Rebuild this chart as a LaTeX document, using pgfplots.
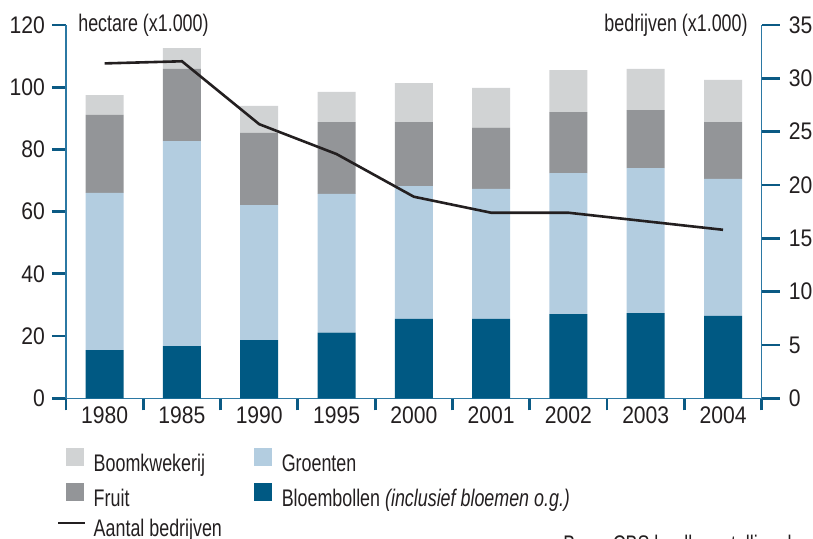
\documentclass[border=0pt]{standalone}
\usepackage{fontspec}
\setmainfont{Liberation Sans}[FakeStretch=0.745]
\newfontfamily\tickfont{Liberation Sans}[FakeStretch=0.88]
\usepackage{pgfplots}
\pgfplotsset{compat=1.18}
\usepackage{pgfplotstable}
\definecolor{bloem}{HTML}{005983}
\definecolor{groen}{HTML}{B3CDE0}
\definecolor{fruit}{HTML}{939598}
\definecolor{boom}{HTML}{D1D3D4}
\definecolor{axblue}{HTML}{2B78A3}
\definecolor{tickblue}{HTML}{0B5A84}
\definecolor{txt}{HTML}{231F20}

\pgfplotstableread{
x bloem groen fruit boom
0 15.5 50.5 25.1 6.4
1 16.8 65.9 23.2 6.7
2 18.7 43.4 23.2 8.7
3 21.1 44.6 23.1 9.7
4 25.5 42.7 20.6 12.5
5 25.5 41.8 19.7 12.8
6 27.1 45.3 19.6 13.5
7 27.4 46.6 18.6 13.3
8 26.5 44.0 18.3 13.6
}\bars

\pgfplotstableread{
x n
0 31.4
1 31.6
2 25.7
3 22.9
4 18.9
5 17.4
6 17.4
7 16.6
8 15.8
}\bedrijven

\pgfplotsset{
  common/.style={
    width=347.85pt, height=186.65pt, scale only axis,
    at={(0,0)}, anchor=south west,
    xmin=-0.5, xmax=8.5,
    clip=false,
    /pgf/number format/assume math mode=true,
    tick label style={font=\tickfont\fontsize{12}{14}\selectfont, text=txt},
    axis line style={draw=axblue, line width=0.8pt},
    tick align=outside,
    major tick length=7pt,
    every tick/.style={draw=tickblue, line width=1.4pt},
  },
}

\begin{document}
\begin{tikzpicture}[font=\fontsize{12}{14}\selectfont, text=txt]
\begin{axis}[common,
  ybar stacked, bar width=19pt,
  ymin=0, ymax=120, ytick={0,20,...,120},
  axis x line*=bottom, axis y line*=left,
  xtick={0,...,8},
  xticklabels={1980,1985,1990,1995,2000,2001,2002,2003,2004},
  major x tick style={draw=none},
  minor xtick={-0.5,0.5,...,8.5},
  minor tick length=6pt,
  minor x tick style={draw=tickblue, line width=1.4pt},
  xticklabel style={yshift=6.5pt},
  legend columns=2,
  legend cell align=left,
  legend style={at={(axis description cs:-0.0129,-0.1331)}, anchor=north west,
    draw=none, fill=none, inner sep=0pt, outer sep=0pt,
    column sep=0pt, row sep=3pt,
    nodes={inner sep=0pt, text height=9pt, text depth=3pt, text=txt, font=\fontsize{12}{14}\selectfont},
    /tikz/every even column/.append style={column sep=16pt}},
]
\addplot[fill=bloem, draw=none, forget plot] table[x=x, y=bloem] {\bars};
\addplot[fill=groen, draw=none, forget plot] table[x=x, y=groen] {\bars};
\addplot[fill=fruit, draw=none, forget plot] table[x=x, y=fruit] {\bars};
\addplot[fill=boom, draw=none, forget plot] table[x=x, y=boom] {\bars};
\addlegendimage{legend image code/.code={\fill[boom] (0pt,0pt) rectangle (8.5pt,8.5pt); \path (13.5pt,0pt);}}
\addlegendentry{Boomkwekerij}
\addlegendimage{legend image code/.code={\fill[groen] (0pt,0pt) rectangle (8.5pt,8.5pt); \path (13.5pt,0pt);}}
\addlegendentry{Groenten}
\addlegendimage{legend image code/.code={\fill[fruit] (0pt,0pt) rectangle (8.5pt,8.5pt); \path (13.5pt,0pt);}}
\addlegendentry{Fruit}
\addlegendimage{legend image code/.code={\fill[bloem] (0pt,0pt) rectangle (8.5pt,8.5pt); \path (13.5pt,0pt);}}
\addlegendentry{Bloembollen \textit{(inclusief bloemen o.g.)}}
\addlegendimage{legend image code/.code={\draw[txt, line width=1.3pt] (-4pt,4pt) -- (9.5pt,4pt); \path (13.5pt,0pt);}}
\addlegendentry{Aantal bedrijven}
\node[anchor=west, inner sep=0pt] at (axis description cs:0.0172,1) {hectare (x1.000)};
\node[anchor=north west, inner sep=0pt] at (axis description cs:0.7144,-0.3662) {Bron: CBS landbouwtelling, bewerking LEI};
\end{axis}
\begin{axis}[common,
  ymin=0, ymax=35, ytick={0,5,...,35},
  major tick length=9pt,
  axis y line*=right, axis x line=none,
  yticklabel style={xshift=1pt},
]
\addplot[txt, line width=1.3pt, mark=none] table[x=x, y=n] {\bedrijven};
\node[anchor=east, inner sep=0pt] at (axis description cs:0.9803,1) {bedrijven (x1.000)};
\end{axis}
\pgfresetboundingbox
\useasboundingbox (-33pt,-69.85pt) rectangle (373.5pt,199.15pt);
\end{tikzpicture}
\end{document}
